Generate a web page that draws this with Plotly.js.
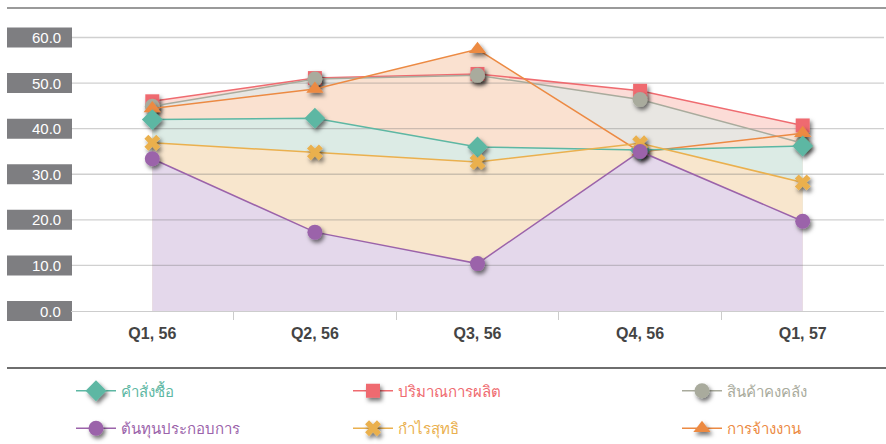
<!DOCTYPE html>
<html>
<head>
<meta charset="utf-8">
<script src="https://cdn.plot.ly/plotly-3.0.1.min.js"></script>
<style>
html,body{margin:0;padding:0;background:#fff;}
#chart{width:886px;height:444px;}
.scatterlayer .points path, .legendpoints path.scatterpts { filter: url(#mkshadow); }
</style>
</head>
<body>
<svg width="0" height="0" style="position:absolute">
  <defs>
    <filter id="mkshadow" x="-60%" y="-60%" width="240%" height="240%">
      <feDropShadow dx="2" dy="3" stdDeviation="2" flood-color="#000" flood-opacity="0.55"/>
    </filter>
  </defs>
</svg>
<div id="chart"></div>
<script>
// ---- data ----
const categories = ["Q1, 56", "Q2, 56", "Q3, 56", "Q4, 56", "Q1, 57"];
const orders      = [42.0, 42.3, 36.0, 35.3, 36.2];   // คำสั่งซื้อ
const production  = [46.0, 51.1, 52.0, 48.3, 40.7];   // ปริมาณการผลิต
const inventory   = [44.9, 50.9, 51.7, 46.4, 36.8];   // สินค้าคงคลัง
const opCost      = [33.4, 17.3, 10.4, 35.0, 19.7];   // ต้นทุนประกอบการ
const netProfit   = [36.9, 34.8, 32.7, 36.8, 28.2];   // กำไรสุทธิ
const employment  = [44.4, 48.7, 57.4, 34.9, 39.0];   // การจ้างงาน
const yTicks      = [0, 10, 20, 30, 40, 50, 60];
const yTickLabels = ["0.0", "10.0", "20.0", "30.0", "40.0", "50.0", "60.0"];
const yMax = 66.47;

// category positions on a linear axis (index of each category)
const xPos = categories.map((c, i) => i);
const xMin = -0.5, xMaxR = categories.length - 0.5;
const boundaries = categories.slice(1).map((c, i) => i + 0.5);

// ---- series styles (draw order: back to front) ----
const series = [
  {name: "ปริมาณการผลิต",   y: production, color: "#ef6b70", fill: "#fcdcd7", symbol: "square",         size: 14, legend: "legend2", group: "a"},
  {name: "สินค้าคงคลัง",     y: inventory,  color: "#a9ab9d", fill: "#e8e6e2", symbol: "circle",         size: 15, legend: "legend3", group: "a"},
  {name: "การจ้างงาน",      y: employment, color: "#ec8a43", fill: "#fae1d0", symbol: "triangle-up",    size: 15, legend: "legend3", group: "b"},
  {name: "คำสั่งซื้อ",        y: orders,     color: "#5db7a3", fill: "#dcebe5", symbol: "diamond",        size: 16, legend: "legend",  group: "a"},
  {name: "กำไรสุทธิ",        y: netProfit,  color: "#eab04e", fill: "#f8e6cd", symbol: "x",              size: 14, legend: "legend2", group: "b"},
  {name: "ต้นทุนประกอบการ", y: opCost,     color: "#9b63aa", fill: "#e4d8eb", symbol: "circle",         size: 15, legend: "legend",  group: "b"}
];

const traces = [];
// filled areas (behind everything)
series.forEach(s => {
  traces.push({
    x: xPos, y: s.y, type: "scatter", mode: "none",
    fill: "tozeroy", fillcolor: s.fill, showlegend: false, hoverinfo: "skip"
  });
});
// horizontal gridlines drawn over the fills, built from the y tick values
const gx = [], gy = [];
yTicks.filter(v => v > 0).forEach(v => { gx.push(xMin, xMaxR, null); gy.push(v, v, null); });
traces.push({
  x: gx, y: gy, type: "scatter", mode: "lines", showlegend: false, hoverinfo: "skip",
  line: {color: "rgba(110,110,110,0.32)", width: 1.3}
});
// lines + markers
series.forEach(s => {
  traces.push({
    x: xPos, y: s.y, type: "scatter", mode: "lines+markers",
    name: '<span style="color:' + s.color + '">' + s.name + '</span>',
    line: {color: s.color, width: 1.5},
    marker: {color: s.color, symbol: s.symbol, size: s.size, line: {width: 0}},
    legend: s.legend, legendgroup: s.group
  });
});

const annotations = yTicks.map((v, i) => ({
  xref: "paper", yref: "y", x: 0, y: v, xanchor: "right", yanchor: "middle",
  xshift: -8, text: yTickLabels[i], showarrow: false,
  font: {family: "Liberation Sans, Arial, sans-serif", size: 15, color: "#ffffff"}
}));

const shapes = yTicks.map(v => ({
  type: "rect", layer: "below",
  xref: "paper", xsizemode: "pixel", xanchor: 0, x0: -64, x1: 1,
  yref: "paper", ysizemode: "pixel", yanchor: v / yMax, y0: -10, y1: 10,
  fillcolor: "#7e7e81", line: {width: 0}
}));
shapes.push({type: "line", xref: "paper", yref: "paper", x0: -64/813, x1: 1.01, y0: 1, y1: 1,
  line: {color: "#9a9a9a", width: 2}});
shapes.push({type: "line", xref: "paper", yref: "paper", x0: -64/813, x1: 1.01, y0: -57/303, y1: -57/303,
  line: {color: "#6e6e6e", width: 2}});

const legendFont = {family: "Noto Sans, DejaVu Sans, sans-serif", size: 15};
function mkLegend(xpx) {
  return {x: (xpx - 71) / 813, xanchor: "left", y: -63.5/303, yanchor: "top",
    orientation: "v", bgcolor: "rgba(0,0,0,0)", font: legendFont,
    tracegroupgap: 15, traceorder: "grouped", itemwidth: 40};
}

const layout = {
  width: 886, height: 444,
  margin: {l: 71, r: 2, t: 8, b: 133, autoexpand: false},
  paper_bgcolor: "#ffffff", plot_bgcolor: "#ffffff",
  xaxis: {
    type: "linear", range: [xMin, xMaxR], showgrid: false, zeroline: false,
    tickmode: "array", tickvals: xPos, ticktext: categories, ticks: "",
    showline: true, linecolor: "#cdcdcd", linewidth: 1.3, layer: "above traces",
    ticklabelstandoff: 7, automargin: false,
    minor: {tickmode: "array", tickvals: boundaries, ticks: "outside", ticklen: 8,
            tickcolor: "#cccccc", tickwidth: 1, showgrid: false},
    tickfont: {family: "Liberation Sans, Arial, sans-serif", size: 16, color: "#444444", weight: 600}
  },
  yaxis: {
    range: [0, yMax], showticklabels: false, tickvals: yTicks, ticks: "", automargin: false,
    showgrid: false, zeroline: false, showline: false
  },
  showlegend: true,
  legend: mkLegend(71),
  legend2: mkLegend(348),
  legend3: mkLegend(677),
  annotations: annotations,
  shapes: shapes,
  hovermode: false
};

Plotly.newPlot("chart", traces, layout, {displayModeBar: false, staticPlot: true});
</script>
</body>
</html>
